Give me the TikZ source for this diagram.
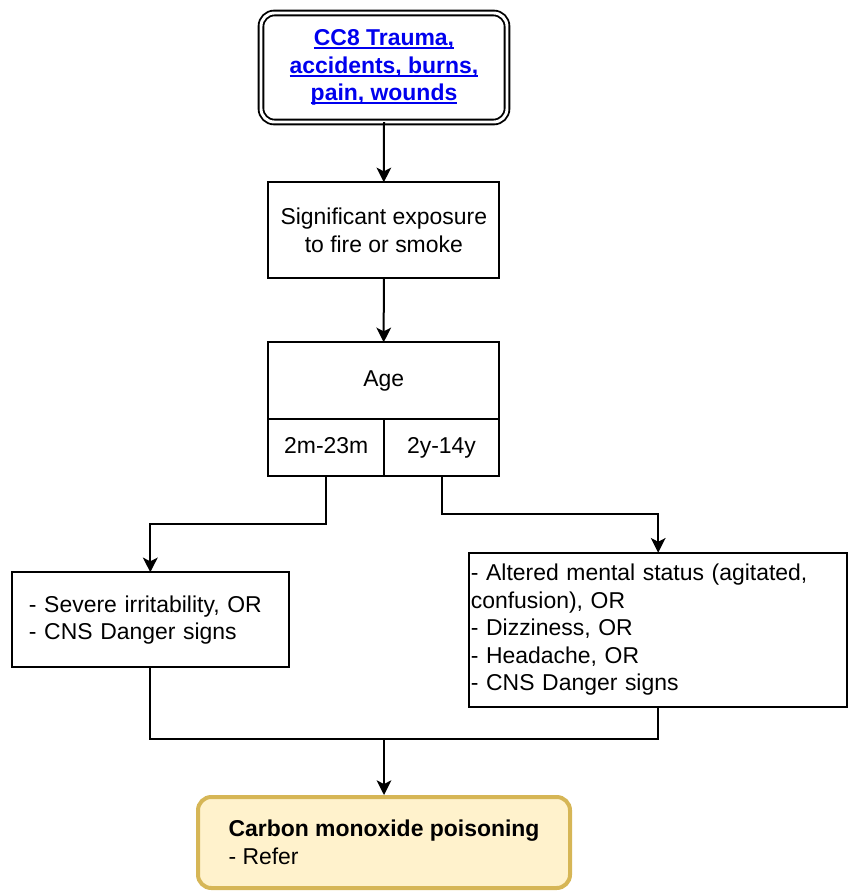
\documentclass[tikz,border=0pt]{standalone}
\usepackage{fontspec}
\setmainfont{Liberation Sans}
\usetikzlibrary{arrows.meta}
\definecolor{linkblue}{HTML}{0000EE}
\definecolor{notefill}{HTML}{FFF2CC}
\definecolor{noteline}{HTML}{D6B656}
% underline at a fixed distance below the baseline
\newcommand\ulinktext[1]{\setbox0=\hbox{#1}\rlap{\rule[-2.6pt]{\wd0}{1.3pt}}\box0}
\tikzset{
  every node/.style={font=\fontsize{17.2pt}{20.6pt}\selectfont},
  boldtext/.style={font=\fontsize{17.2pt}{20.6pt}\selectfont\bfseries},
  box/.style={draw, line width=1.5pt, inner sep=0pt, outer sep=0pt, align=center},
  leftbox/.style={draw, line width=1.5pt, inner ysep=0pt, outer sep=0pt, align=left},
  cell/.style={box, text height=12.4pt, text depth=3.6pt},
  conn/.style={line width=1.5pt},
  arr/.style={line width=1.5pt, -{Stealth[length=11pt,width=11pt,inset=2.8pt]}},
}
\begin{document}
\begin{tikzpicture}[x=0.75pt, y=-0.75pt]
\useasboundingbox (0,0) rectangle (848,893);

% entry point
\node[box, boldtext, rounded corners=10pt, double, double distance=2.2pt, line width=1.4pt,
      minimum width=184.5pt, minimum height=81.75pt, text=linkblue]
  (cc) at (384,67.5) {\ulinktext{CC8 Trauma,}\\\ulinktext{accidents, burns,}\\\ulinktext{pain, wounds}};

\node[box, minimum width=173.25pt, minimum height=72pt]
  (exp) at (383.8,230.3) {Significant exposure\\to fire or smoke};

% age table
\node[box, minimum width=173pt, minimum height=57.3pt]
  (age) at (383.7,380.5) {Age};
\node[cell, minimum width=86.8pt, minimum height=42.75pt]
  (agea) at (326.2,447.2) {2m-23m};
\node[cell, minimum width=86.5pt, minimum height=42.75pt]
  (ageb) at (441.5,447.2) {2y-14y};

% symptom boxes
\node[leftbox, text width=182pt, inner xsep=12.75pt, minimum height=71.25pt]
  (young) at (150.3,619.8) {- Severe irritability, OR\\- CNS Danger signs};
\node[leftbox, text width=281pt, inner xsep=1.1pt, minimum height=115.5pt]
  (older) at (658.2,629.7) {- Altered mental status (agitated,\\confusion), OR\\- Dizziness, OR\\- Headache, OR\\- CNS Danger signs};

% outcome
\node[draw=noteline, fill=notefill, line width=3pt, rounded corners=10pt,
      minimum width=279pt, minimum height=68.25pt, inner sep=0pt, align=left]
  (co) at (384,842.5) {\textbf{Carbon monoxide poisoning}\\- Refer};

\coordinate (merge) at (384,739);

\draw[arr] (cc.south) -- (exp.north);
\draw[arr] (exp.south) -- (age.north);
\draw[arr] (agea.south) -- (agea.south |- 0,524) -| (young.north);
\draw[arr] (ageb.south) -- (ageb.south |- 0,514) -| (older.north);
\draw[conn] (young.south) |- (merge) -| (older.south);
\draw[arr] (merge) -- (co.north);
\end{tikzpicture}
\end{document}
